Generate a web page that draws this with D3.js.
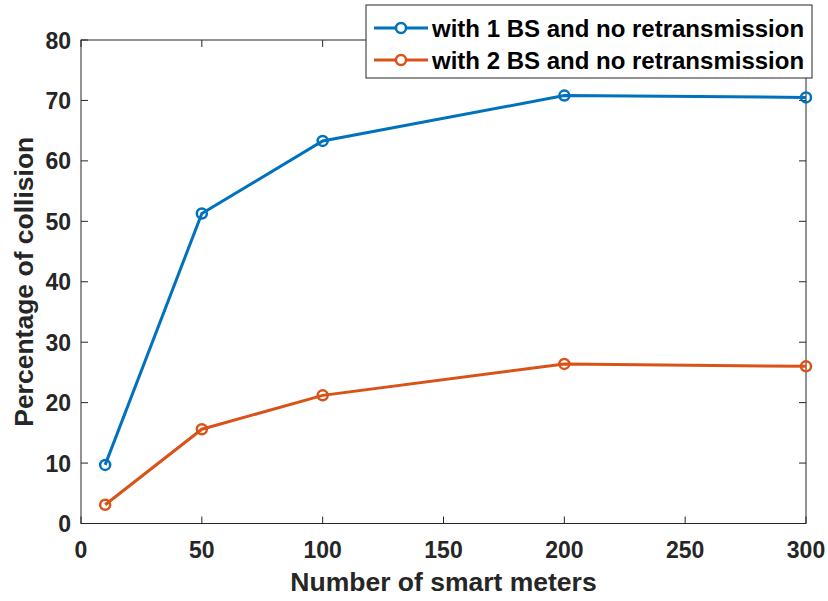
<!DOCTYPE html>
<html><head><meta charset="utf-8">
<script src="https://cdn.jsdelivr.net/npm/d3@7"></script>
<style>
html,body{margin:0;padding:0;background:#fff;}
text{font-family:"Liberation Sans",Arial,sans-serif;font-weight:bold;}
</style></head>
<body>
<svg id="chart" width="828" height="601"></svg>
<script>
const meters = [10, 50, 100, 200, 300];
const bs1Values = [9.7, 51.3, 63.3, 70.8, 70.5];
const bs2Values = [3.1, 15.6, 21.2, 26.4, 26.0];
const seriesNames = ["with 1 BS and no retransmission", "with 2 BS and no retransmission"];
const xTicks = [0, 50, 100, 150, 200, 250, 300];
const yTicks = [0, 10, 20, 30, 40, 50, 60, 70, 80];
const xLabel = "Number of smart meters";
const yLabel = "Percentage of collision";

const colors = ["#0072BD", "#D95319"];
const axisColor = "#262626";
const svg = d3.select("#chart");
const m = {left: 81, right: 806, top: 40, bottom: 523.5};
const x = d3.scaleLinear().domain([0, 300]).range([m.left, m.right]);
const y = d3.scaleLinear().domain([0, 80]).range([m.bottom, m.top]);

// box
svg.append("rect").attr("x", m.left).attr("y", m.top)
  .attr("width", m.right - m.left).attr("height", m.bottom - m.top)
  .attr("fill", "#fff").attr("stroke", axisColor).attr("stroke-width", 1);

const tl = 7;
xTicks.forEach(t => {
  svg.append("line").attr("x1", x(t)).attr("x2", x(t)).attr("y1", m.bottom).attr("y2", m.bottom - tl).attr("stroke", axisColor);
  svg.append("line").attr("x1", x(t)).attr("x2", x(t)).attr("y1", m.top).attr("y2", m.top + tl).attr("stroke", axisColor);
  svg.append("text").attr("x", x(t)).attr("y", m.bottom + 34).attr("text-anchor", "middle")
    .attr("font-size", 23).attr("fill", axisColor).text(t);
});
yTicks.forEach(t => {
  svg.append("line").attr("x1", m.left).attr("x2", m.left + tl).attr("y1", y(t)).attr("y2", y(t)).attr("stroke", axisColor);
  svg.append("line").attr("x1", m.right).attr("x2", m.right - tl).attr("y1", y(t)).attr("y2", y(t)).attr("stroke", axisColor);
  svg.append("text").attr("x", m.left - 10).attr("y", y(t) + 8.5).attr("text-anchor", "end")
    .attr("font-size", 23).attr("fill", axisColor).text(t);
});

svg.append("text").attr("x", (m.left + m.right) / 2).attr("y", 591).attr("text-anchor", "middle")
  .attr("font-size", 26.5).attr("fill", axisColor).text(xLabel);
svg.append("text").attr("transform", `translate(33,${(m.top + m.bottom) / 2}) rotate(-90)`).attr("text-anchor", "middle")
  .attr("font-size", 26.5).attr("fill", axisColor).text(yLabel);

const line = d3.line().x((d, i) => x(meters[i])).y(d => y(d));
[bs1Values, bs2Values].forEach((vals, k) => {
  svg.append("path").datum(vals).attr("d", line).attr("fill", "none")
    .attr("stroke", colors[k]).attr("stroke-width", 3);
  svg.selectAll(null).data(vals).enter().append("circle")
    .attr("cx", (d, i) => x(meters[i])).attr("cy", d => y(d)).attr("r", 5)
    .attr("fill", "none").attr("stroke", colors[k]).attr("stroke-width", 2.5);
});

// legend
const lg = {x: 366, y: 5, w: 446, h: 73};
svg.append("rect").attr("x", lg.x).attr("y", lg.y).attr("width", lg.w).attr("height", lg.h)
  .attr("fill", "#fff").attr("stroke", axisColor).attr("stroke-width", 1);
seriesNames.forEach((name, k) => {
  const cy = lg.y + 23 + k * 32;
  svg.append("line").attr("x1", lg.x + 8).attr("x2", lg.x + 62).attr("y1", cy).attr("y2", cy)
    .attr("stroke", colors[k]).attr("stroke-width", 3);
  svg.append("circle").attr("cx", lg.x + 35).attr("cy", cy).attr("r", 5)
    .attr("fill", "#fff").attr("stroke", colors[k]).attr("stroke-width", 2.5);
  svg.append("text").attr("x", lg.x + 66).attr("y", cy + 8.5).attr("font-size", 24)
    .attr("fill", "#000").text(name);
});
</script>
</body></html>
